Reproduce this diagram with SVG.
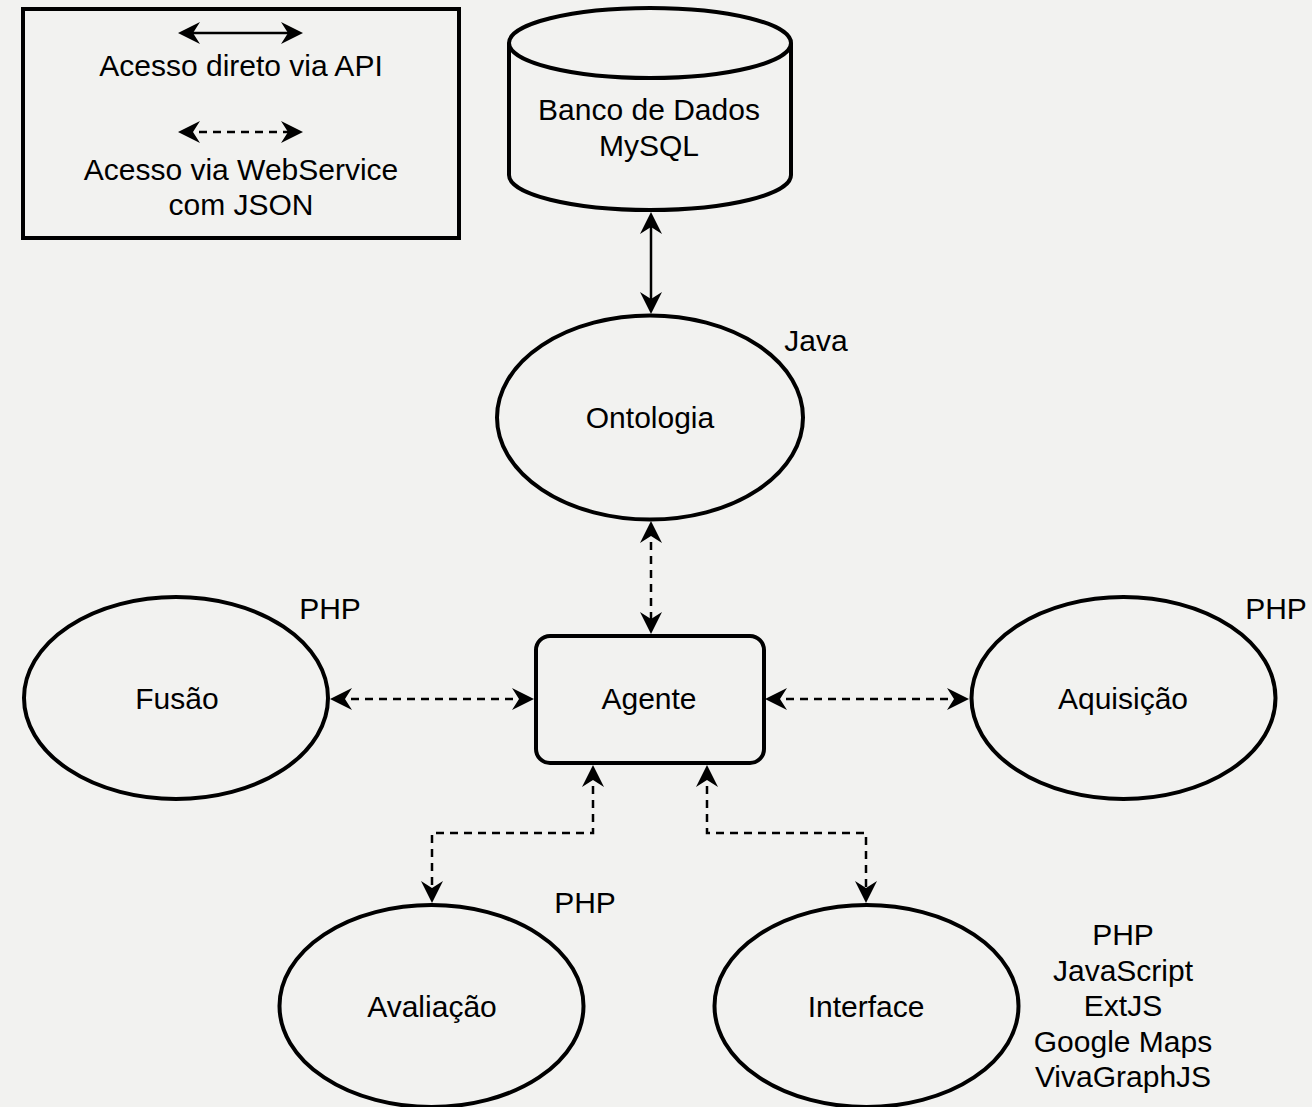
<svg xmlns="http://www.w3.org/2000/svg" width="1312" height="1107" viewBox="0 0 1312 1107">
<style>
.shape{fill:none;stroke:#000;stroke-width:4}
.t{font-family:"Liberation Sans",Arial,Helvetica,sans-serif;font-size:30px;fill:#000;text-anchor:middle}
.c{fill:none;stroke:#000;stroke-width:2.5}
.d{stroke-dasharray:8 6}
</style>
<defs>
<marker id="ar" viewBox="0 0 22 22" refX="15" refY="11" markerWidth="22" markerHeight="22" markerUnits="userSpaceOnUse" orient="auto-start-reverse">
<path d="M0,0 L22,11 L0,22 L7,11 Z" fill="#000"/>
</marker>
</defs>
<rect width="1312" height="1107" fill="#f2f2f0"/>

<g id="legend">
<rect class="shape" x="23" y="9" width="436" height="229"/>
<line class="c" x1="185" y1="33" x2="296" y2="33" marker-start="url(#ar)" marker-end="url(#ar)"/>
<text class="t" x="241" y="76">Acesso direto via API</text>
<line class="c d" x1="185" y1="132" x2="296" y2="132" marker-start="url(#ar)" marker-end="url(#ar)"/>
<text class="t" x="241" y="180">Acesso via WebService</text>
<text class="t" x="241" y="215">com JSON</text>
</g>

<g id="db">
<path class="shape" d="M509,43 A141,35 0 0 1 791,43 V175 A141,35 0 0 1 509,175 Z"/>
<path class="shape" d="M509,43 A141,35 0 0 0 791,43"/>
<text class="t" x="649" y="120">Banco de Dados</text>
<text class="t" x="649" y="156">MySQL</text>
</g>

<g id="ontologia">
<ellipse class="shape" cx="650" cy="417.5" rx="153" ry="102"/>
<text class="t" x="650" y="428">Ontologia</text>
<text class="t" x="816" y="351">Java</text>
</g>

<g id="agente">
<rect class="shape" x="536" y="636" width="228" height="127" rx="14"/>
<text class="t" x="649" y="709">Agente</text>
</g>

<g id="fusao">
<ellipse class="shape" cx="176" cy="698" rx="152" ry="101"/>
<text class="t" x="177" y="709">Fusão</text>
<text class="t" x="330" y="619">PHP</text>
</g>

<g id="aquisicao">
<ellipse class="shape" cx="1123.5" cy="698" rx="152" ry="101"/>
<text class="t" x="1123" y="709">Aquisição</text>
<text class="t" x="1276" y="619">PHP</text>
</g>

<g id="avaliacao">
<ellipse class="shape" cx="431.5" cy="1006" rx="152" ry="101"/>
<text class="t" x="432" y="1017">Avaliação</text>
<text class="t" x="585" y="913">PHP</text>
</g>

<g id="interface">
<ellipse class="shape" cx="866.5" cy="1006" rx="152" ry="101"/>
<text class="t" x="866" y="1017">Interface</text>
<text class="t" x="1123" y="945">PHP</text>
<text class="t" x="1123" y="981">JavaScript</text>
<text class="t" x="1123" y="1016">ExtJS</text>
<text class="t" x="1123" y="1052">Google Maps</text>
<text class="t" x="1123" y="1087">VivaGraphJS</text>
</g>

<g id="connectors">
<line class="c" x1="651" y1="219" x2="651" y2="307" marker-start="url(#ar)" marker-end="url(#ar)"/>
<line class="c d" x1="651" y1="528" x2="651" y2="627" marker-start="url(#ar)" marker-end="url(#ar)"/>
<line class="c d" x1="337" y1="699" x2="527" y2="699" marker-start="url(#ar)" marker-end="url(#ar)"/>
<line class="c d" x1="772" y1="699" x2="962" y2="699" marker-start="url(#ar)" marker-end="url(#ar)"/>
<polyline class="c d" points="593,772 593,833 432,833 432,896" marker-start="url(#ar)" marker-end="url(#ar)"/>
<polyline class="c d" points="707,772 707,833 866,833 866,896" marker-start="url(#ar)" marker-end="url(#ar)"/>
</g>
</svg>
